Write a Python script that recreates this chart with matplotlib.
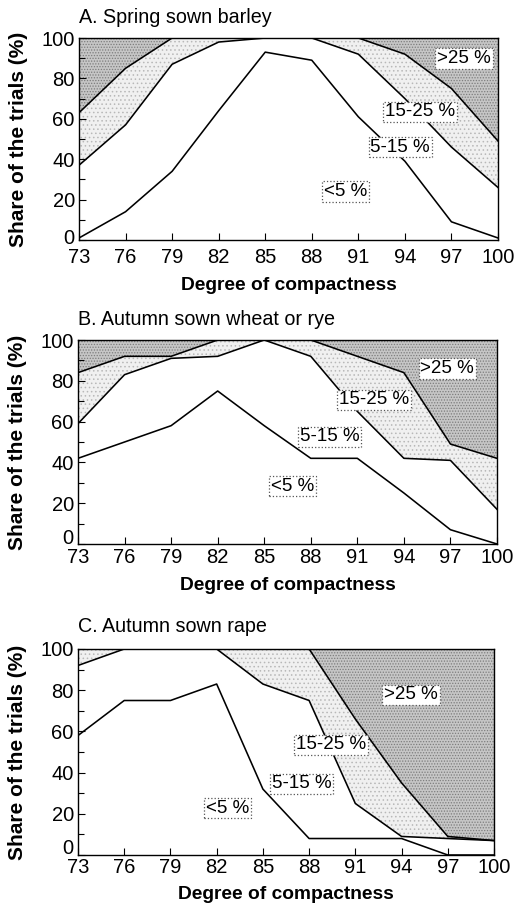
import matplotlib
matplotlib.use("Agg")
import matplotlib.pyplot as plt
import matplotlib.transforms as mtransforms
import numpy as np

plt.rcParams['font.family'] = ['Liberation Sans', 'DejaVu Sans']
plt.rcParams['hatch.linewidth'] = 0.6

# Degree of compactness (x axis)
compactness = [73, 76, 79, 82, 85, 88, 91, 94, 97, 100]
y_ticks = [0, 20, 40, 60, 80, 100]

# Cumulative share of trials (%) for yield-loss classes:
# lt5 = <5 %, lt15 = <5 % + 5-15 %, lt25 = <5 % + 5-15 % + 15-25 %
barley_lt5 = [1, 14, 34, 64, 93, 89, 61, 39, 9, 1]
barley_lt15 = [37, 57, 87, 98, 100, 100, 92, 70, 46, 26]
barley_lt25 = [63, 85, 100, 100, 100, 100, 100, 92, 75, 49]

wheat_lt5 = [42, 50, 58, 75, 58, 42, 42, 25, 7, 0]
wheat_lt15 = [59, 83, 91, 92, 100, 92, 65, 42, 41, 17]
wheat_lt25 = [84, 92, 92, 100, 100, 100, 92, 84, 49, 42]

rape_lt5 = [58, 75, 75, 83, 32, 8, 8, 8, 0, 0]
rape_lt15 = [92, 100, 100, 100, 83, 75, 25, 9, 8, 7]
rape_lt25 = [100, 100, 100, 100, 100, 100, 66, 35, 9, 7]

class_labels = ["<5 %", "5-15 %", "15-25 %", ">25 %"]

panels = [
    dict(title="A. Spring sown barley", c1=barley_lt5, c2=barley_lt15, c3=barley_lt25,
         rect=[79 / 519, 666 / 906, 419 / 519, 202 / 906],
         label_pos=[(90.2, 24), (93.7, 46), (95.0, 63.4), (97.8, 90)],
         title_gap=11, tick_pad=6, xlabel_gap=37, zero_lift=4),
    dict(title="B. Autumn sown wheat or rye", c1=wheat_lt5, c2=wheat_lt15, c3=wheat_lt25,
         rect=[78 / 519, 362 / 906, 419 / 519, 204 / 906],
         label_pos=[(86.8, 28.4), (89.2, 52.5), (92.1, 70.6), (96.8, 86)],
         title_gap=11, tick_pad=3, xlabel_gap=33, zero_lift=7),
    dict(title="C. Autumn sown rape", c1=rape_lt5, c2=rape_lt15, c3=rape_lt25,
         rect=[78 / 519, 51 / 906, 416 / 519, 206 / 906],
         label_pos=[(82.7, 22.8), (87.5, 34.5), (89.4, 53.4), (94.6, 77.7)],
         title_gap=13, tick_pad=2, xlabel_gap=31, zero_lift=8),
]

fig = plt.figure(figsize=(5.19, 9.06), dpi=100)

for p in panels:
    ax = fig.add_axes(p["rect"])
    x = np.array(compactness)
    c1, c2, c3 = np.array(p["c1"]), np.array(p["c2"]), np.array(p["c3"])
    w_px = p["rect"][2] * 519
    h_px = p["rect"][3] * 906

    # >25 % : dense dark stipple
    ax.fill_between(x, c3, 100, facecolor="#c6c6c6", edgecolor="#7d7d7d",
                    hatch="......", linewidth=0, zorder=1)
    # 15-25 % : light stipple
    ax.fill_between(x, c2, c3, facecolor="#f0f0f0", edgecolor="#b8b8b8",
                    hatch="....", linewidth=0, zorder=1)

    for c in (c1, c2, c3):
        ax.plot(x, c, color="black", linewidth=1.15, zorder=3)

    for text, (lx, ly) in zip(class_labels, p["label_pos"]):
        ax.text(lx, ly, text, ha="center", va="center", fontsize=13.5, zorder=5,
                bbox=dict(boxstyle="square,pad=0.1", facecolor="white",
                          edgecolor="#555555", linestyle=":", linewidth=0.9))

    ax.set_xlim(73, 100)
    ax.set_ylim(0, 100)
    ax.set_xticks(compactness)
    ax.set_yticks(y_ticks)
    ax.set_yticks(np.arange(0, 101, 10), minor=True)
    ax.tick_params(axis="both", which="major", direction="in", length=5,
                   width=0.8, labelsize=14.5, pad=3)
    ax.tick_params(axis="y", which="minor", direction="in", length=4, width=0.8)
    ax.tick_params(axis="x", pad=p["tick_pad"])
    for s in ax.spines.values():
        s.set_linewidth(1.0)

    # lift the "0" label a little so it sits above the first x label
    fig.canvas.draw()
    zero_lbl = ax.get_yticklabels()[0]
    zero_lbl.set_transform(zero_lbl.get_transform() +
                           mtransforms.ScaledTranslation(0, p["zero_lift"] / 100,
                                                         fig.dpi_scale_trans))

    ax.set_ylabel("Share of the trials (%)", fontsize=15, fontweight="bold")
    ax.yaxis.set_label_coords(-51 / w_px, 0.5)
    ax.set_xlabel("Degree of compactness", fontsize=13.8, fontweight="bold")
    ax.xaxis.set_label_coords(0.5, -p["xlabel_gap"] / h_px)

    ax.text(0.0, 1 + p["title_gap"] / h_px, p["title"], transform=ax.transAxes,
            ha="left", va="bottom", fontsize=14.2)

fig.savefig("out.png", dpi=100)
